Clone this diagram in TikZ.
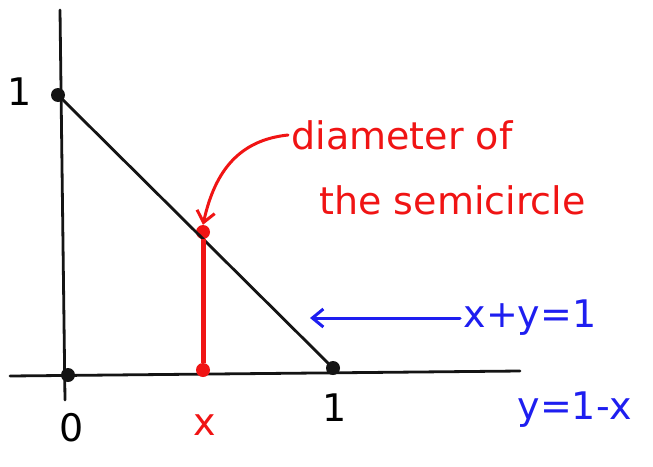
\documentclass[tikz,border=0pt]{standalone}
\usepackage{fontspec}
\setmainfont{DejaVu Sans}
\usetikzlibrary{arrows.meta}
\definecolor{pen}{RGB}{20,20,20}
\definecolor{redpen}{RGB}{240,20,20}
\definecolor{bluepen}{RGB}{30,30,240}
\tikzset{
  axis/.style={draw=pen,line width=2.8pt,line cap=round},
  curve/.style={draw=pen,line width=2.8pt,line cap=round},
  dotk/.style={circle,fill=pen,inner sep=0pt,minimum size=14pt},
  dotr/.style={circle,fill=redpen,inner sep=0pt,minimum size=14pt},
  lab/.style={font=\fontsize{38}{40}\selectfont},
  redlab/.style={lab,text=redpen},
  bluelab/.style={lab,text=bluepen},
  ptr/.style={line width=3pt,line cap=round,-{Straight Barb[length=11pt,width=18pt]}}
}
\begin{document}
\begin{tikzpicture}[x=1pt,y=-1pt]
\useasboundingbox[fill=white] (0,0) rectangle (653,466);
% axes
\coordinate (ytop) at (60,10);
\coordinate (ybot) at (65,400);
\coordinate (xl) at (10,376);
\coordinate (xr) at (520,371);
\draw[axis] (ytop) -- (ybot);
\draw[axis] (xl) -- (xr);
% points
\node[dotk] (A) at (58,95) {};
\node[dotk] (B) at (333,368) {};
\node[dotk] (O) at (68,375) {};
\node[dotr] (P) at (203,232) {};
\node[dotr] (Q) at (203,370) {};
\draw[curve] (A) -- (B);
\draw[draw=redpen,line width=5pt] (P) -- (Q);
% labels
\node[lab] (l1) at (20,92) {1};
\node[lab] (l0) at (72,428) {0};
\node[lab] (lB) at (335,408) {1};
\node[redlab] (lx) at (205,425) {x};
\node[redlab,anchor=west] (d1) at (288,135) {diameter of};
\node[redlab,anchor=west] (d2) at (316,200) {the semicircle};
\node[bluelab,anchor=west] (e1) at (460,318) {x+y=1};
\node[bluelab,anchor=west] (e2) at (514,410) {y=1-x};
% arrows
\draw[ptr,redpen] (d1.west) .. controls (240,140) and (215,170) .. (P.north);
\coordinate (bt) at (310,318);
\draw[ptr,bluepen] (e1.west) -- (bt);
\end{tikzpicture}
\end{document}
